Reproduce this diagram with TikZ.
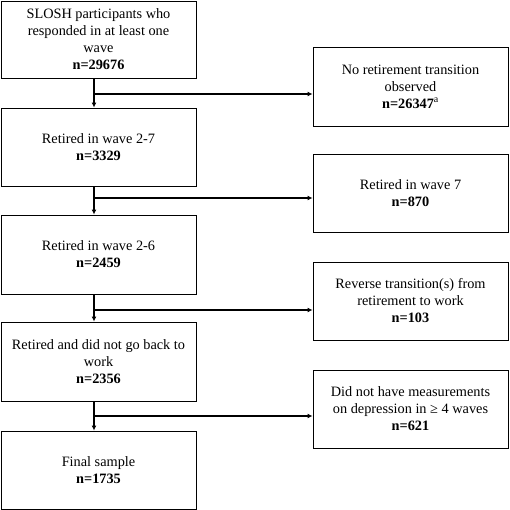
\documentclass[tikz,border=0pt]{standalone}
\usepackage{fontspec}
\setmainfont{Liberation Serif}
\usetikzlibrary{arrows.meta}
\begin{document}
\begin{tikzpicture}[x=1pt,y=-1pt,
  box/.style={draw, line width=0.9pt, minimum width=195pt, align=center, inner sep=0pt,
    font=\fontsize{14.3}{17}\selectfont},
  conn/.style={line width=1.5pt, -{Latex[length=5pt,width=5pt]}}]
\useasboundingbox (0,0) rectangle (509,510);
% left column
\node[box, minimum height=77pt] (b1) at (98.5,39.5) {SLOSH participants who\\responded in at least one\\wave\\\textbf{n=29676}};
\node[box, minimum height=78pt] (b2) at (98.5,147) {Retired in wave 2-7\\\textbf{n=3329}};
\node[box, minimum height=79pt] (b3) at (98.5,254.5) {Retired in wave 2-6\\\textbf{n=2459}};
\node[box, minimum height=79pt] (b4) at (98.5,361.5) {Retired and did not go back to\\work\\\textbf{n=2356}};
\node[box, minimum height=78pt] (b5) at (98.5,470) {Final sample\\\textbf{n=1735}};
% right column
\node[box, minimum height=79pt] (r1) at (410.5,86.5) {No retirement transition\\observed\\\textbf{n=26347}\textsuperscript{a}};
\node[box, minimum height=78pt] (r2) at (410.5,193) {Retired in wave 7\\\textbf{n=870}};
\node[box, minimum height=78pt] (r3) at (410.5,301) {Reverse transition(s) from\\retirement to work\\\textbf{n=103}};
\node[box, minimum height=78pt] (r4) at (410.5,409) {Did not have measurements\\on depression in ≥ 4 waves\\\textbf{n=621}};
% connectors
\foreach \a/\b/\r/\d in {b1/b2/r1/7.5, b2/b3/r2/5, b3/b4/r3/9, b4/b5/r4/7}{
  \coordinate (s) at ([xshift=-4.5pt]\a.south);
  \coordinate (t) at ([yshift=-\d pt]\r.west);
  \draw[conn] (s) -- (s |- \b.north);
  \draw[conn] (s |- t) -- (t);
}
\end{tikzpicture}
\end{document}
